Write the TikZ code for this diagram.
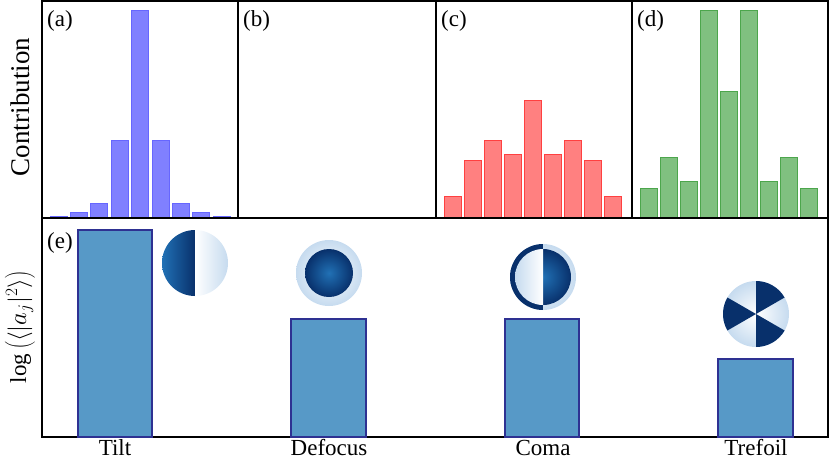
\documentclass[tikz,border=0pt]{standalone}
\usepackage{fontspec}
\setmainfont{Liberation Serif}
\usetikzlibrary{positioning}
\definecolor{barblue}{HTML}{8080FF}
\definecolor{barred}{HTML}{FF8080}
\definecolor{bargreen}{HTML}{80C080}
\definecolor{steel}{HTML}{5799C7}
\definecolor{navy}{HTML}{2E3192}
\definecolor{deep}{HTML}{08306B}
\definecolor{mid}{HTML}{2171B5}
\definecolor{pale}{HTML}{C6DBEF}
\newcommand\labelfont{\fontsize{23}{26}\selectfont}
\newcommand\axisfont{\fontsize{27}{30}\selectfont}
\tikzset{
  frame/.style={draw=black, line width=1.2pt},
  histbar/.style={line width=0.8pt},
  modebar/.style={draw=navy, fill=steel, line width=1.2pt},
  panel/.style={anchor=north west, inner sep=2pt, font=\labelfont},
  axislabel/.style={rotate=90, font=\axisfont},
  modelabel/.style={inner sep=0pt, font=\labelfont}
}

\begin{document}
\begin{tikzpicture}[x=1pt, y=-1pt]
    \useasboundingbox (0,0) rectangle (830,459);

    % Histograms of the top row
    \foreach \h [count=\i from 0] in {216,212,203,140,10,140,203,212,216} {
        \draw[histbar, draw=barblue!80!blue, fill=barblue] (50+20.4*\i,218) rectangle (67+20.4*\i,\h);
    }
    \foreach \h [count=\i from 0] in {196,160,140,154,100,154,140,160,196} {
        \draw[histbar, draw=red!75, fill=barred] (444+20*\i,218) rectangle (461+20*\i,\h);
    }
    \foreach \h [count=\i from 0] in {188,157,181,10,91,10,181,157,188} {
        \draw[histbar, draw=green!50!black!70, fill=bargreen] (640+20*\i,218) rectangle (657+20*\i,\h);
    }

    % Frames
    \draw[frame] (42,1) rectangle (828,437);
    \draw[frame] (42,218) -- (828,218);
    \foreach \x in {238,436,632} {
        \draw[frame] (\x,1) -- (\x,218);
    }

    % Panel labels
    \node[panel] (pa) at (45,8) {(a)};
    \node[panel] (pb) at (241,8) {(b)};
    \node[panel] (pc) at (439,8) {(c)};
    \node[panel] (pd) at (635,8) {(d)};
    \node[panel] (pe) at (45,230) {(e)};

    % Axis labels
    \node[axislabel] (ylabtop) at (20,107) {Contribution};
    \node[axislabel] (ylabbot) at (20,327) {\labelfont$\log\left(\langle |a_j|^2\rangle\right)$};

    % Mode bars
    \draw[modebar] (78,437) rectangle (152,230);
    \draw[modebar] (291,437) rectangle (366,319);
    \draw[modebar] (505,437) rectangle (579,319);
    \draw[modebar] (718,437) rectangle (793,359);

    % Mode names
    \node[modelabel] (tilt) at (115,448) {Tilt};
    \node[modelabel] (defocus) at (329,448) {Defocus};
    \node[modelabel] (coma) at (543,448) {Coma};
    \node[modelabel] (trefoil) at (756,448) {Trefoil};

    % Tilt icon
    \begin{scope}[shift={(195,263)}]
        \clip (0,0) circle (33);
        \shade[left color=mid, right color=deep] (-33,-33) rectangle (0,33);
        \shade[left color=white, right color=pale] (0,-33) rectangle (33,33);
    \end{scope}

    % Defocus icon
    \begin{scope}[shift={(329,273)}]
        \shade[inner color=white, outer color=pale] (0,0) circle (33);
        \shade[inner color=mid, outer color=deep] (0,0) circle (24);
    \end{scope}

    % Coma icon
    \begin{scope}[shift={(543,277)}]
        \clip (0,0) circle (33);
        \shade[inner color=white, outer color=pale] (0,0) circle (33);
        \shade[inner color=mid, outer color=deep] (0,0) circle (28);
        \fill[deep] (-33,-33) rectangle (0,33);
        \begin{scope}
            \clip (0,0) circle (28);
            \shade[left color=pale, right color=white] (-28,-28) rectangle (0,28);
        \end{scope}
    \end{scope}

    % Trefoil icon
    \begin{scope}[shift={(756,314)}]
        \shade[inner color=white, outer color=pale] (0,0) circle (33);
        \foreach \a in {30,150,270} {
            \fill[deep] (0,0) -- (\a:33) arc (\a:\a+60:33) -- cycle;
        }
    \end{scope}
\end{tikzpicture}
\end{document}
